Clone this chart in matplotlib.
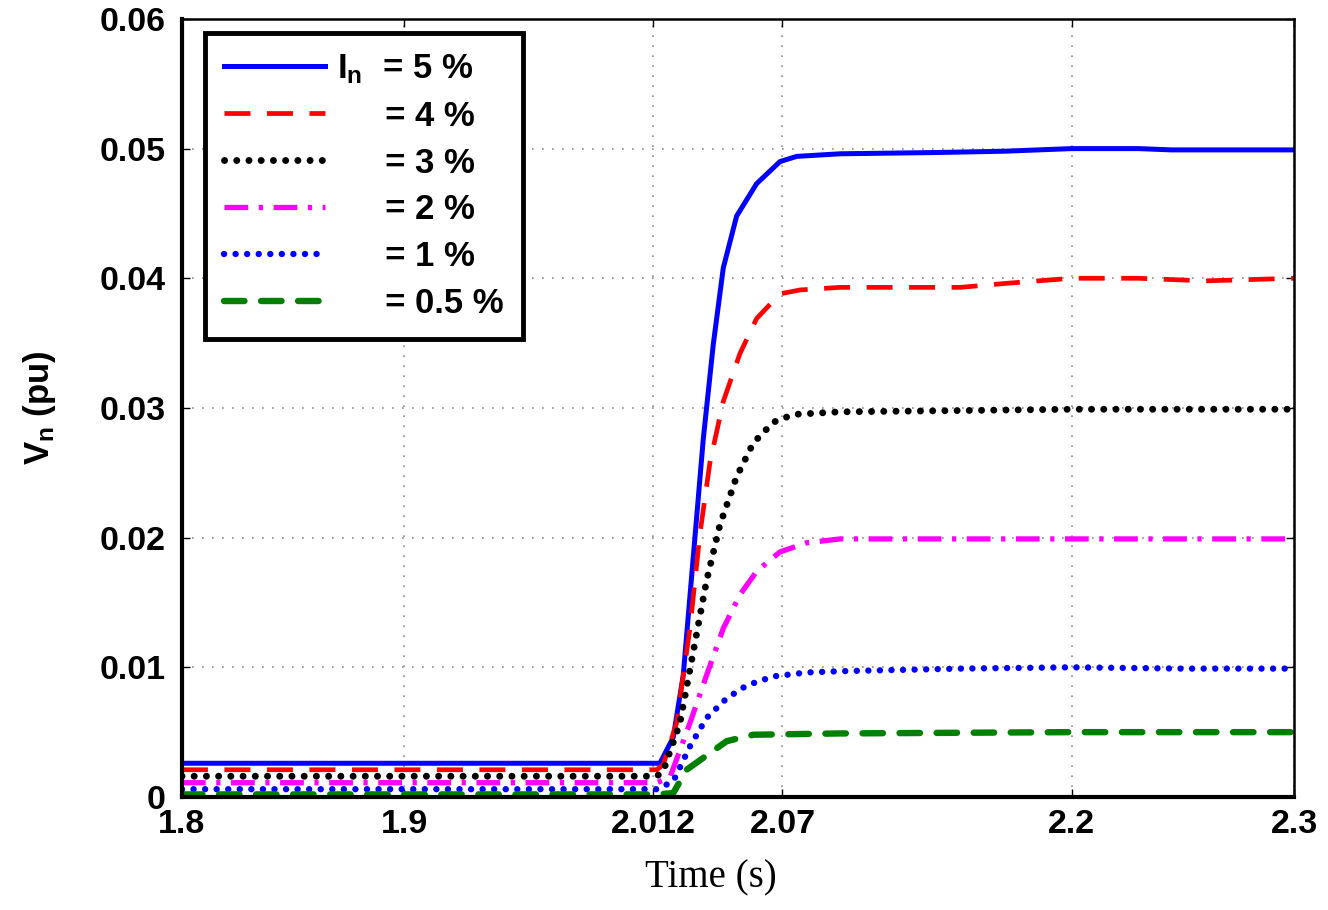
import matplotlib
matplotlib.use("Agg")
import matplotlib.pyplot as plt

plt.rcParams["font.family"] = ["Liberation Sans", "DejaVu Sans"]
plt.rcParams["mathtext.fontset"] = "custom"
plt.rcParams["mathtext.rm"] = "Liberation Sans:bold"
plt.rcParams["mathtext.bf"] = "Liberation Sans:bold"
plt.rcParams["mathtext.it"] = "Liberation Sans:bold"

# values
t_5 = [1.8, 2.0149, 2.0209, 2.0254, 2.0299, 2.0344, 2.0389, 2.0434, 2.0494,
       2.0584, 2.0689, 2.0764, 2.0959, 2.14, 2.17, 2.2, 2.23, 2.245, 2.26, 2.3]
v_5 = [0.0026, 0.0026, 0.0046, 0.0094, 0.0185, 0.0276, 0.0349, 0.0408, 0.0448,
       0.0473, 0.0490, 0.0494, 0.0496, 0.0497, 0.0498, 0.0500, 0.0500, 0.0499, 0.0499, 0.0499]

t_4 = [1.8, 2.0135, 2.0164, 2.0224, 2.0284, 2.0329, 2.0374, 2.0434, 2.0509,
       2.0584, 2.0689, 2.0779, 2.0959, 2.15, 2.17, 2.2, 2.23, 2.26, 2.3]
v_4 = [0.0021, 0.0021, 0.0025, 0.0057, 0.0130, 0.0203, 0.0258, 0.0305, 0.0342,
       0.0369, 0.0388, 0.0391, 0.0393, 0.0393, 0.0396, 0.0400, 0.0400, 0.0398, 0.0400]

t_3 = [1.8, 2.0135, 2.0164, 2.0239, 2.0299, 2.0359, 2.0419, 2.0494, 2.0569,
       2.0659, 2.0749, 2.0959, 2.15, 2.2, 2.3]
v_3 = [0.0016, 0.0016, 0.0020, 0.0057, 0.0112, 0.0167, 0.0210, 0.0247, 0.0273,
       0.0289, 0.0295, 0.0297, 0.0298, 0.0299, 0.0299]

t_2 = [1.8, 2.0135, 2.0194, 2.0284, 2.0359, 2.0434, 2.0509, 2.0584, 2.0689,
       2.0809, 2.0959, 2.2, 2.3]
v_2 = [0.0011, 0.0011, 0.0015, 0.0057, 0.0094, 0.0130, 0.0156, 0.0174, 0.0189,
       0.0196, 0.0199, 0.0199, 0.0199]

t_1 = [1.8, 2.0135, 2.0209, 2.0284, 2.0359, 2.0449, 2.0539, 2.0659, 2.0809,
       2.0959, 2.15, 2.2, 2.25, 2.3]
v_1 = [0.0006, 0.0006, 0.0012, 0.0039, 0.0061, 0.0076, 0.0086, 0.0093, 0.0096,
       0.0097, 0.0099, 0.0100, 0.0099, 0.0099]

t_05 = [1.8, 2.0135, 2.0209, 2.0269, 2.0359, 2.0449, 2.0569, 2.0959, 2.2, 2.3]
v_05 = [0.0002, 0.0002, 0.0003, 0.0021, 0.0032, 0.0043, 0.0048, 0.0049, 0.0050, 0.0050]

labels = ["I$_\\mathbf{n}$  = 5 %", "     = 4 %", "     = 3 %",
          "     = 2 %", "     = 1 %", "     = 0.5 %"]
x_ticks = [1.8, 1.9, 2.012, 2.07, 2.2, 2.3]
x_tick_labels = ["1.8", "1.9", "2.012", "2.07", "2.2", "2.3"]
y_ticks = [0, 0.01, 0.02, 0.03, 0.04, 0.05, 0.06]
y_tick_labels = ["0", "0.01", "0.02", "0.03", "0.04", "0.05", "0.06"]

fig = plt.figure(figsize=(13.28, 9.10), dpi=100)
ax = fig.add_axes([0.137, 0.1242, 0.8374, 0.855])

ax.plot(t_5, v_5, color="#0000ff", lw=3.6, label=labels[0])
ax.plot(t_4, v_4, color="#ff0000", lw=3.4, linestyle=(0, (5.5, 3.5)), label=labels[1])
ax.plot(t_3, v_3, color="black", lw=5.0, linestyle=(0, (0.01, 1.75)),
        dash_capstyle="round", label=labels[2])
ax.plot(t_2, v_2, color="#ff00ff", lw=3.8, linestyle=(0, (4.5, 2.0, 0.8, 2.0)),
        label=labels[3])
ax.plot(t_1, v_1, color="#0000ff", lw=4.6, linestyle=(0, (0.01, 1.8)),
        dash_capstyle="round", label=labels[4])
ax.plot(t_05, v_05, color="#008000", lw=4.6, linestyle=(0, (3.2, 2.6)),
        dash_capstyle="round", label=labels[5])

ax.set_xlim(1.8, 2.3)
ax.set_ylim(0, 0.06)
ax.set_xticks(x_ticks)
ax.set_xticklabels(x_tick_labels)
ax.set_yticks(y_ticks)
ax.set_yticklabels(y_tick_labels)
ax.tick_params(direction="in", length=6, width=1, top=True, right=True,
               labelsize=24.5)
ax.tick_params(axis="y", pad=12)
ax.tick_params(axis="x", pad=9)
for lab in ax.get_xticklabels() + ax.get_yticklabels():
    lab.set_fontweight("bold")

ax.grid(True, color="#8c8c8c", lw=1.2, linestyle=(0, (1, 5)))

for side in ["left", "bottom"]:
    ax.spines[side].set_linewidth(3.0)
for side in ["top", "right"]:
    ax.spines[side].set_linewidth(1.8)

ax.set_ylabel("V$_\\mathbf{n}$ (pu)", fontsize=25, fontweight="bold")
ax.yaxis.set_label_coords(-0.1115, 0.5)
fig.text(711 / 1328, 1 - 878 / 910, "Time (s)", fontsize=28,
         family="Liberation Serif", ha="center", va="center")

leg = ax.legend(loc="upper left", bbox_to_anchor=(0.0207, 0.982), borderaxespad=0,
                prop={"weight": "bold", "size": 25},
                handlelength=2.9, handletextpad=0.35, labelspacing=0.40,
                borderpad=0.55, fancybox=False, framealpha=1)
leg.get_frame().set_edgecolor("black")
leg.get_frame().set_linewidth(3.5)

fig.savefig("out.png", dpi=100)
